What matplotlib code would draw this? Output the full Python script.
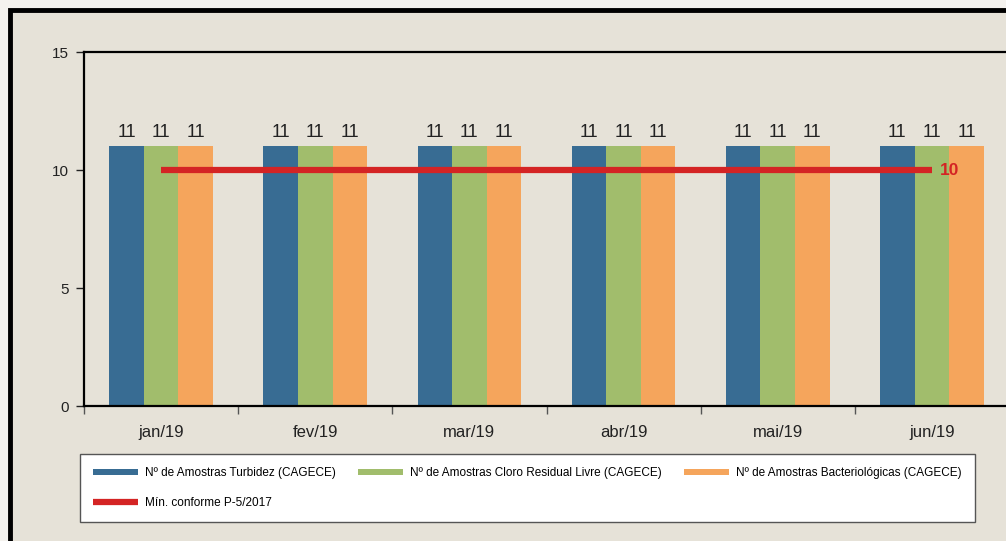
import matplotlib
matplotlib.use("Agg")
import matplotlib.pyplot as plt
import numpy as np
from matplotlib.patches import Rectangle

plt.rcParams['font.family'] = ['Liberation Sans', 'DejaVu Sans']

months = ["jan/19", "fev/19", "mar/19", "abr/19", "mai/19", "jun/19"]
turbidez = [11, 11, 11, 11, 11, 11]
cloro = [11, 11, 11, 11, 11, 11]
bacterio = [11, 11, 11, 11, 11, 11]
minimo = [10, 10, 10, 10, 10, 10]

series_names = ["Nº de Amostras Turbidez (CAGECE)",
                "Nº de Amostras Cloro Residual Livre (CAGECE)",
                "Nº de Amostras Bacteriológicas (CAGECE)"]
line_name = "Mín. conforme P-5/2017"

c_blue = "#386c93"
c_green = "#a1bd6c"
c_orange = "#f5a55c"
c_red = "#d42424"
bg = "#e6e2d8"

W, H = 1006, 541
fig = plt.figure(figsize=(W / 100, H / 100), dpi=100)
fig.patch.set_facecolor("#f4f2ee")

# scanned-page frame
frame = Rectangle((9.5 / W, -0.05), 1.1, 1 - 9.5 / H + 0.05,
                  transform=fig.transFigure, facecolor=bg,
                  edgecolor="black", lw=3.5, zorder=-10)
fig.patches.append(frame)

ax = fig.add_axes([84 / W, 135 / H, 925 / W, 354 / H])
ax.patch.set_alpha(0)

x = np.arange(len(months))
w = 0.224
b1 = ax.bar(x - w, turbidez, w, color=c_blue, label=series_names[0], zorder=2)
b2 = ax.bar(x, cloro, w, color=c_green, label=series_names[1], zorder=2)
b3 = ax.bar(x + w, bacterio, w, color=c_orange, label=series_names[2], zorder=2)
ln, = ax.plot(x, minimo, color=c_red, lw=4.5, label=line_name, zorder=3, solid_capstyle="butt")

for bars in (b1, b2, b3):
    for r in bars:
        ax.text(r.get_x() + r.get_width() / 2, r.get_height() + 0.38, f"{int(r.get_height())}",
                ha="center", va="baseline", fontsize=13, color="#222222")

ax.text(x[-1] + 0.05, minimo[-1], f"{minimo[-1]}", color=c_red, fontsize=12.5,
        fontweight="bold", ha="left", va="center")

ax.set_xlim(-0.5, len(months) - 0.5)
ax.set_ylim(0, 15)
ax.set_yticks([0, 5, 10, 15])
ax.tick_params(axis="y", length=6, width=1, labelsize=11, pad=5, colors="#222222")
ax.set_xticks(x)
ax.set_xticklabels(months, fontsize=12, color="#222222")
ax.tick_params(axis="x", which="major", length=0, pad=14)
ax.set_xticks(np.arange(-0.5, len(months) - 0.4, 1.0), minor=True)
ax.tick_params(axis="x", which="minor", length=6, width=1, color="#555555")

for s in ["left", "top", "bottom"]:
    ax.spines[s].set_linewidth(1.6)
    ax.spines[s].set_color("black")
ax.spines["right"].set_visible(False)

handles = [b1, ln, b2, b3]
labels = [series_names[0], line_name, series_names[1], series_names[2]]
leg = fig.legend(handles, labels, ncol=3, loc="lower left",
                 bbox_to_anchor=(80 / W, 19 / H, 895 / W, 69 / H), mode="expand",
                 borderaxespad=0,
                 fontsize=8.5, frameon=True, fancybox=False, edgecolor="#555555",
                 facecolor="white", framealpha=1, handlelength=3.8, handleheight=0.45,
                 borderpad=1.1, labelspacing=1.5, columnspacing=1.0, handletextpad=0.6)
leg.get_frame().set_linewidth(1.0)

fig.savefig("out.png", dpi=100, facecolor=fig.get_facecolor())
